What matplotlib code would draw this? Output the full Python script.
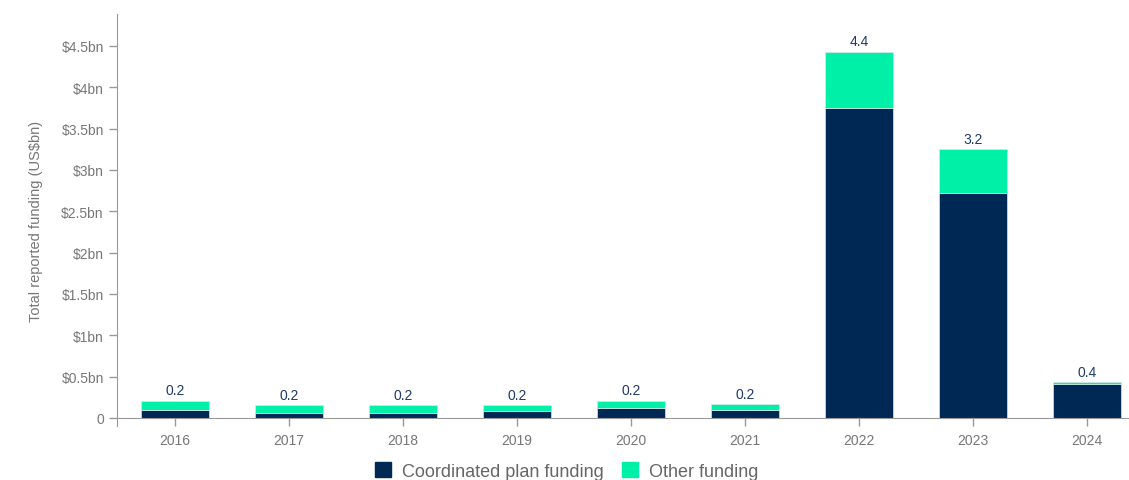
import matplotlib
matplotlib.use("Agg")
import matplotlib.pyplot as plt
import matplotlib.patches as patches
import numpy as np

# Data (US$bn)
years = ["2016", "2017", "2018", "2019", "2020", "2021", "2022", "2023", "2024"]
coordinated = [0.10, 0.06, 0.06, 0.08, 0.12, 0.10, 3.75, 2.72, 0.41]
other = [0.11, 0.09, 0.09, 0.07, 0.09, 0.07, 0.68, 0.53, 0.02]
total_labels = ["0.2", "0.2", "0.2", "0.2", "0.2", "0.2", "4.4", "3.2", "0.4"]
y_ticks = [0, 0.5, 1, 1.5, 2, 2.5, 3, 3.5, 4, 4.5]

NAVY = "#002855"
GREEN = "#00F0A8"
GREY = "#777777"

plt.rcParams["font.family"] = ["Liberation Sans", "DejaVu Sans"]


def fmt_bn(v):
    if v == 0:
        return "0"
    return "$%sbn" % ("%g" % v)


def main():
    fig = plt.figure(figsize=(11.29, 4.81), dpi=100)
    ax = fig.add_axes([0.1036, 0.112, 0.8964, 0.857])

    x = np.arange(len(years))
    width = 0.6
    totals = np.array(coordinated) + np.array(other)

    ax.bar(x, coordinated, width, color=NAVY, edgecolor="#dde3ea", linewidth=0.5,
           label="Coordinated plan funding", zorder=2)
    ax.bar(x, other, width, bottom=coordinated, color=GREEN, edgecolor="#dde3ea",
           linewidth=0.5, label="Other funding", zorder=2)

    # value labels above each stack
    for xi, t, lab in zip(x, totals, total_labels):
        ax.text(xi, t + 0.04, lab, ha="center", va="bottom", fontsize=10, color="#1f3a6b")

    ax.set_xlim(-0.51, 8.37)
    ax.set_ylim(-0.1, 4.887)
    ax.set_xticks(x)
    ax.set_xticklabels(years)
    ax.set_yticks(y_ticks)
    ax.set_yticklabels([fmt_bn(v) for v in y_ticks])

    for side in ["top", "right"]:
        ax.spines[side].set_visible(False)
    ax.spines["bottom"].set_position(("data", 0))
    ax.spines["left"].set_color("#999999")
    ax.spines["bottom"].set_color("#999999")
    ax.tick_params(axis="both", colors="#999999", labelcolor=GREY, labelsize=10,
                   length=6, width=1)
    ax.tick_params(axis="x", pad=5)

    ax.set_ylabel("Total reported funding (US$bn)", fontsize=10.5, color=GREY, labelpad=13)

    handles = [patches.Patch(color=NAVY), patches.Patch(color=GREEN)]
    fig.legend(handles, ["Coordinated plan funding", "Other funding"], loc="lower center",
               bbox_to_anchor=(0.502, -0.033), ncol=2, frameon=False, fontsize=13,
               handlelength=0.9, handleheight=0.9, handletextpad=0.6, columnspacing=1.0,
               labelcolor="#666666")

    fig.savefig("out.png", dpi=100)


if __name__ == "__main__":
    main()
